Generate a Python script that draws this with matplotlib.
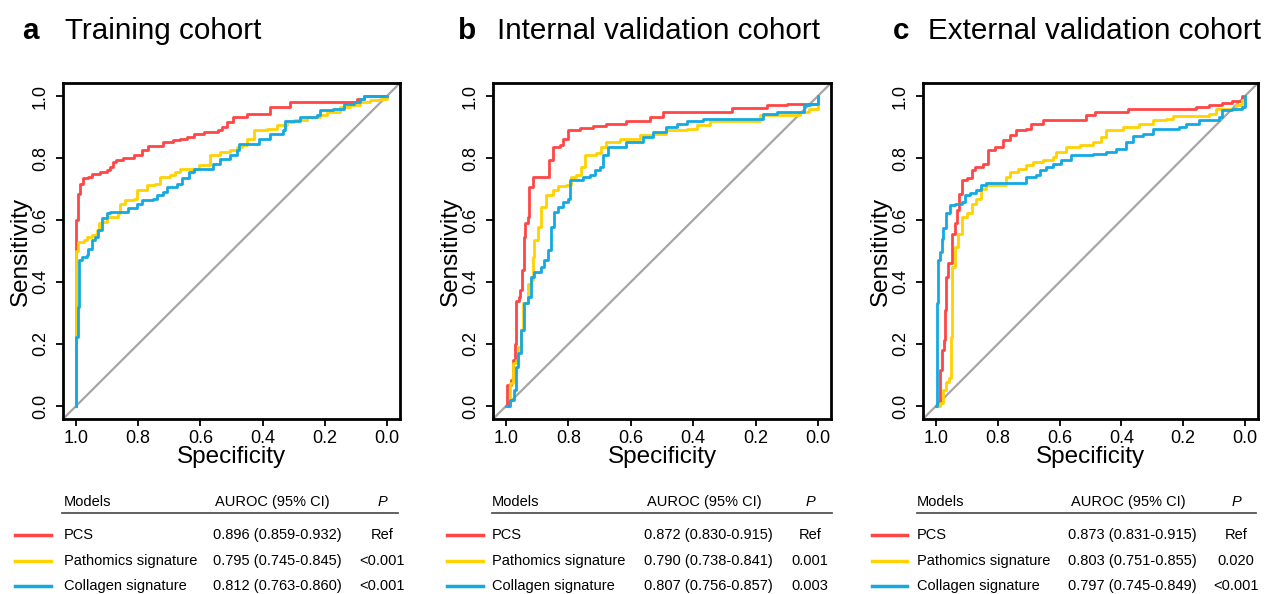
import matplotlib
matplotlib.use("Agg")
import matplotlib.pyplot as plt
from matplotlib.lines import Line2D

plt.rcParams['font.family'] = ['Liberation Sans', 'DejaVu Sans']

# ---------------- datos ----------------
panel_letters = ['a', 'b', 'c']
panel_titles = ['Training cohort', 'Internal validation cohort', 'External validation cohort']
model_names = ['PCS', 'Pathomics signature', 'Collagen signature']
model_colors = ['#FF4646', '#FFD200', '#14A9E2']

auroc_train = ['0.896 (0.859-0.932)', '0.795 (0.745-0.845)', '0.812 (0.763-0.860)']
auroc_internal = ['0.872 (0.830-0.915)', '0.790 (0.738-0.841)', '0.807 (0.756-0.857)']
auroc_external = ['0.873 (0.831-0.915)', '0.803 (0.751-0.855)', '0.797 (0.745-0.849)']
p_train = ['Ref', '<0.001', '<0.001']
p_internal = ['Ref', '0.001', '0.003']
p_external = ['Ref', '0.020', '<0.001']

# cohorte de entrenamiento
train_pcs_spec = [1.0, 1.0, 1.0, 0.9925, 0.987, 0.979, 0.96, 0.95, 0.923, 0.90, 0.89, 0.88, 0.87, 0.848, 0.815,
                  0.789, 0.767, 0.719, 0.687, 0.665, 0.644, 0.622, 0.59, 0.542, 0.53, 0.515, 0.494, 0.45, 0.408,
                  0.376, 0.311, 0.129, 0.097, 0.075, 0.0]
train_pcs_sens = [0.0, 0.535, 0.6, 0.685, 0.717, 0.734, 0.739, 0.75, 0.755, 0.76, 0.771, 0.787, 0.793, 0.80, 0.809,
                  0.825, 0.838, 0.852, 0.859, 0.862, 0.868, 0.879, 0.884, 0.889, 0.90, 0.916, 0.932, 0.943, 0.943,
                  0.965, 0.98, 0.98, 0.991, 1.0, 1.0]
train_path_spec = [1.0, 1.0, 0.9925, 0.976, 0.966, 0.95, 0.933, 0.925, 0.917, 0.90, 0.864, 0.858, 0.842, 0.815, 0.805,
                   0.773, 0.746, 0.73, 0.697, 0.681, 0.665, 0.612, 0.606, 0.574, 0.569, 0.536, 0.504, 0.483, 0.467,
                   0.45, 0.429, 0.386, 0.354, 0.322, 0.30, 0.258, 0.215, 0.193, 0.15, 0.118, 0.086, 0.054, 0.021, 0.0]
train_path_sens = [0.0, 0.50, 0.53, 0.535, 0.546, 0.551, 0.567, 0.589, 0.594, 0.61, 0.621, 0.653, 0.664, 0.669, 0.696,
                   0.712, 0.717, 0.739, 0.744, 0.755, 0.763, 0.763, 0.777, 0.777, 0.809, 0.82, 0.825, 0.836, 0.841,
                   0.862, 0.889, 0.895, 0.905, 0.916, 0.924, 0.932, 0.938, 0.948, 0.965, 0.97, 0.98, 0.986, 0.991, 1.0]
train_coll_spec = [1.0, 1.0, 0.995, 0.989, 0.982, 0.966, 0.96, 0.95, 0.939, 0.928, 0.917, 0.90, 0.89, 0.848, 0.832,
                   0.805, 0.789, 0.751, 0.74, 0.719, 0.708, 0.676, 0.66, 0.638, 0.622, 0.574, 0.558, 0.536, 0.504,
                   0.483, 0.477, 0.429, 0.413, 0.386, 0.376, 0.333, 0.327, 0.30, 0.279, 0.225, 0.215, 0.172, 0.139,
                   0.107, 0.086, 0.075, 0.0]
train_coll_sens = [0.0, 0.223, 0.32, 0.47, 0.481, 0.487, 0.508, 0.535, 0.546, 0.567, 0.605, 0.621, 0.626, 0.626, 0.64,
                   0.653, 0.664, 0.669, 0.68, 0.69, 0.707, 0.717, 0.734, 0.755, 0.763, 0.763, 0.782, 0.798, 0.809,
                   0.825, 0.844, 0.844, 0.862, 0.862, 0.879, 0.889, 0.921, 0.921, 0.932, 0.938, 0.954, 0.959, 0.975,
                   0.98, 0.991, 1.0, 1.0]

# validacion interna
int_pcs_spec = [1.0, 0.998, 0.987, 0.984, 0.979, 0.973, 0.968, 0.96, 0.955, 0.95, 0.944, 0.938, 0.93, 0.925, 0.914,
                0.866, 0.861, 0.85, 0.828, 0.818, 0.802, 0.786, 0.764, 0.721, 0.678, 0.614, 0.539, 0.496, 0.293,
                0.277, 0.164, 0.1, 0.025, 0.0]
int_pcs_sens = [0.0, 0.068, 0.068, 0.084, 0.148, 0.2, 0.34, 0.35, 0.374, 0.438, 0.546, 0.589, 0.61, 0.707, 0.739,
                0.739, 0.793, 0.836, 0.841, 0.862, 0.889, 0.889, 0.898, 0.902, 0.911, 0.921, 0.932, 0.948, 0.948,
                0.962, 0.97, 0.975, 0.975, 1.0]
int_path_spec = [1.0, 0.989, 0.979, 0.968, 0.962, 0.952, 0.946, 0.93, 0.92, 0.914, 0.909, 0.898, 0.887, 0.871, 0.85,
                 0.834, 0.807, 0.791, 0.775, 0.759, 0.748, 0.711, 0.695, 0.678, 0.636, 0.571, 0.528, 0.486, 0.421,
                 0.389, 0.346, 0.26, 0.185, 0.057, 0.03, 0.0]
int_path_sens = [0.0, 0.073, 0.138, 0.148, 0.191, 0.245, 0.331, 0.395, 0.406, 0.481, 0.535, 0.578, 0.642, 0.68, 0.696,
                 0.709, 0.712, 0.739, 0.744, 0.771, 0.809, 0.816, 0.836, 0.852, 0.862, 0.873, 0.879, 0.889, 0.895,
                 0.905, 0.921, 0.921, 0.938, 0.948, 0.959, 1.0]
int_coll_spec = [1.0, 0.989, 0.976, 0.968, 0.962, 0.952, 0.941, 0.93, 0.92, 0.909, 0.887, 0.877, 0.866, 0.855, 0.845,
                 0.834, 0.818, 0.802, 0.796, 0.753, 0.732, 0.716, 0.7, 0.689, 0.673, 0.636, 0.614, 0.561, 0.528,
                 0.486, 0.453, 0.421, 0.368, 0.196, 0.175, 0.132, 0.057, 0.046, 0.025, 0.0]
int_coll_sens = [0.0, 0.019, 0.052, 0.127, 0.17, 0.245, 0.331, 0.352, 0.417, 0.433, 0.449, 0.47, 0.503, 0.578, 0.626,
                 0.642, 0.658, 0.669, 0.728, 0.739, 0.744, 0.76, 0.771, 0.809, 0.836, 0.836, 0.852, 0.868, 0.884,
                 0.9, 0.911, 0.921, 0.927, 0.927, 0.943, 0.948, 0.948, 0.97, 0.975, 1.0]

# validacion externa
ext_pcs_spec = [1.0, 0.992, 0.987, 0.982, 0.974, 0.97, 0.968, 0.96, 0.949, 0.939, 0.931, 0.925, 0.917, 0.901, 0.885,
                0.874, 0.847, 0.831, 0.81, 0.783, 0.761, 0.74, 0.708, 0.691, 0.654, 0.535, 0.514, 0.487, 0.385,
                0.38, 0.159, 0.116, 0.073, 0.041, 0.009, 0.0]
ext_pcs_sens = [0.0, 0.009, 0.116, 0.18, 0.213, 0.309, 0.417, 0.46, 0.556, 0.589, 0.632, 0.685, 0.728, 0.734, 0.76,
                0.771, 0.782, 0.825, 0.836, 0.857, 0.873, 0.889, 0.895, 0.911, 0.922, 0.922, 0.938, 0.949, 0.949,
                0.957, 0.965, 0.972, 0.979, 0.984, 1.0, 1.0]
ext_path_spec = [1.0, 0.987, 0.976, 0.968, 0.957, 0.952, 0.947, 0.939, 0.928, 0.917, 0.901, 0.885, 0.869, 0.853,
                 0.837, 0.783, 0.772, 0.761, 0.734, 0.708, 0.686, 0.654, 0.622, 0.611, 0.578, 0.535, 0.492, 0.466,
                 0.449, 0.396, 0.342, 0.299, 0.256, 0.234, 0.116, 0.095, 0.03, 0.009, 0.0]
ext_path_sens = [0.0, 0.009, 0.052, 0.078, 0.089, 0.223, 0.449, 0.513, 0.556, 0.61, 0.621, 0.653, 0.669, 0.701,
                 0.712, 0.712, 0.739, 0.755, 0.766, 0.777, 0.787, 0.795, 0.803, 0.82, 0.834, 0.841, 0.852, 0.868,
                 0.889, 0.9, 0.911, 0.922, 0.927, 0.936, 0.943, 0.959, 0.97, 0.986, 1.0]
ext_coll_spec = [1.0, 0.998, 0.992, 0.987, 0.982, 0.976, 0.966, 0.955, 0.939, 0.917, 0.906, 0.89, 0.869, 0.853, 0.837,
                 0.724, 0.708, 0.675, 0.665, 0.643, 0.622, 0.595, 0.562, 0.492, 0.449, 0.417, 0.385, 0.363, 0.331,
                 0.299, 0.213, 0.191, 0.148, 0.084, 0.073, 0.041, 0.009, 0.0]
ext_coll_sens = [0.0, 0.331, 0.47, 0.497, 0.54, 0.573, 0.621, 0.648, 0.653, 0.658, 0.68, 0.687, 0.696, 0.712, 0.718,
                 0.718, 0.739, 0.744, 0.76, 0.771, 0.782, 0.793, 0.809, 0.814, 0.82, 0.83, 0.852, 0.87, 0.879,
                 0.895, 0.9, 0.911, 0.922, 0.932, 0.954, 0.959, 0.965, 1.0]

ticks = [1.0, 0.8, 0.6, 0.4, 0.2, 0.0]
tick_labels = ['1.0', '0.8', '0.6', '0.4', '0.2', '0.0']

curvas = [
    [(train_pcs_spec, train_pcs_sens), (train_path_spec, train_path_sens), (train_coll_spec, train_coll_sens)],
    [(int_pcs_spec, int_pcs_sens), (int_path_spec, int_path_sens), (int_coll_spec, int_coll_sens)],
    [(ext_pcs_spec, ext_pcs_sens), (ext_path_spec, ext_path_sens), (ext_coll_spec, ext_coll_sens)],
]
aurocs = [auroc_train, auroc_internal, auroc_external]
pvals = [p_train, p_internal, p_external]

# ---------------- layout (pixeles) ----------------
W, H = 1266, 594
def fx(x):
    return x / W
def fy(y):
    return 1 - y / H

ax_left = [63, 493, 923]
ax_right = [400, 831, 1258]
ax_top, ax_bottom = 83, 419
letter_x = [22, 458, 893]
title_x = [65, 497, 928]
name_x = [64, 492, 917]
head_auroc_x = [272, 704, 1128]
val_x = [277, 708, 1132]
p_x = [382, 810, 1236]
hline = [(62, 398), (492, 832), (917, 1256)]
legend_x = [(15, 51), (447, 483), (872, 907)]
row_y = [535, 561, 586]

fig = plt.figure(figsize=(12.66, 5.94), dpi=100)

for k in range(3):
    ax = fig.add_axes([fx(ax_left[k]), fy(ax_bottom), fx(ax_right[k]) - fx(ax_left[k]),
                       fy(ax_top) - fy(ax_bottom)])
    ax.plot([1.1, -0.1], [-0.1, 1.1], color='#A6A6A6', lw=1.6, zorder=1)
    for (spec, sens), col in zip(curvas[k], model_colors):
        ax.plot(spec, sens, color=col, lw=2, drawstyle='steps-post', zorder=2)
    ax.set_xlim(1.042, -0.042)
    ax.set_ylim(-0.042, 1.042)
    ax.set_xticks(ticks)
    ax.set_xticklabels(tick_labels)
    ax.set_yticks(ticks)
    ax.set_yticklabels(tick_labels, rotation=90, va='center')
    ax.tick_params(direction='out', length=5, width=1.3, labelsize=13, pad=3)
    ax.tick_params(axis='y', pad=5)
    for s in ax.spines.values():
        s.set_linewidth(2)
    ax.set_xlabel('Specificity', fontsize=17.5, labelpad=-1)
    ax.set_ylabel('Sensitivity', fontsize=17.5, labelpad=0)

    # titulo del panel
    fig.text(fx(letter_x[k]), fy(39), panel_letters[k], fontsize=21.3, fontweight='bold', va='baseline')
    fig.text(fx(title_x[k]), fy(39), panel_titles[k], fontsize=21.3, va='baseline')

    # tabla
    fig.text(fx(name_x[k]), fy(502), 'Models', fontsize=10.5, va='center')
    fig.text(fx(head_auroc_x[k]), fy(502), 'AUROC (95% CI)', fontsize=10.5, va='center', ha='center')
    fig.text(fx(p_x[k]), fy(502), 'P', fontsize=10.5, va='center', ha='center', style='italic')
    fig.add_artist(Line2D([fx(hline[k][0]), fx(hline[k][1])], [fy(513), fy(513)],
                          color='#555555', lw=1.3, transform=fig.transFigure))
    for i in range(3):
        fig.add_artist(Line2D([fx(legend_x[k][0]), fx(legend_x[k][1])], [fy(row_y[i]), fy(row_y[i])],
                              color=model_colors[i], lw=2.5, transform=fig.transFigure))
        fig.text(fx(name_x[k]), fy(row_y[i]), model_names[i], fontsize=10.5, va='center')
        fig.text(fx(val_x[k]), fy(row_y[i]), aurocs[k][i], fontsize=10.5, va='center', ha='center')
        fig.text(fx(p_x[k]), fy(row_y[i]), pvals[k][i], fontsize=10.5, va='center', ha='center')

fig.savefig('out.png', dpi=100)
